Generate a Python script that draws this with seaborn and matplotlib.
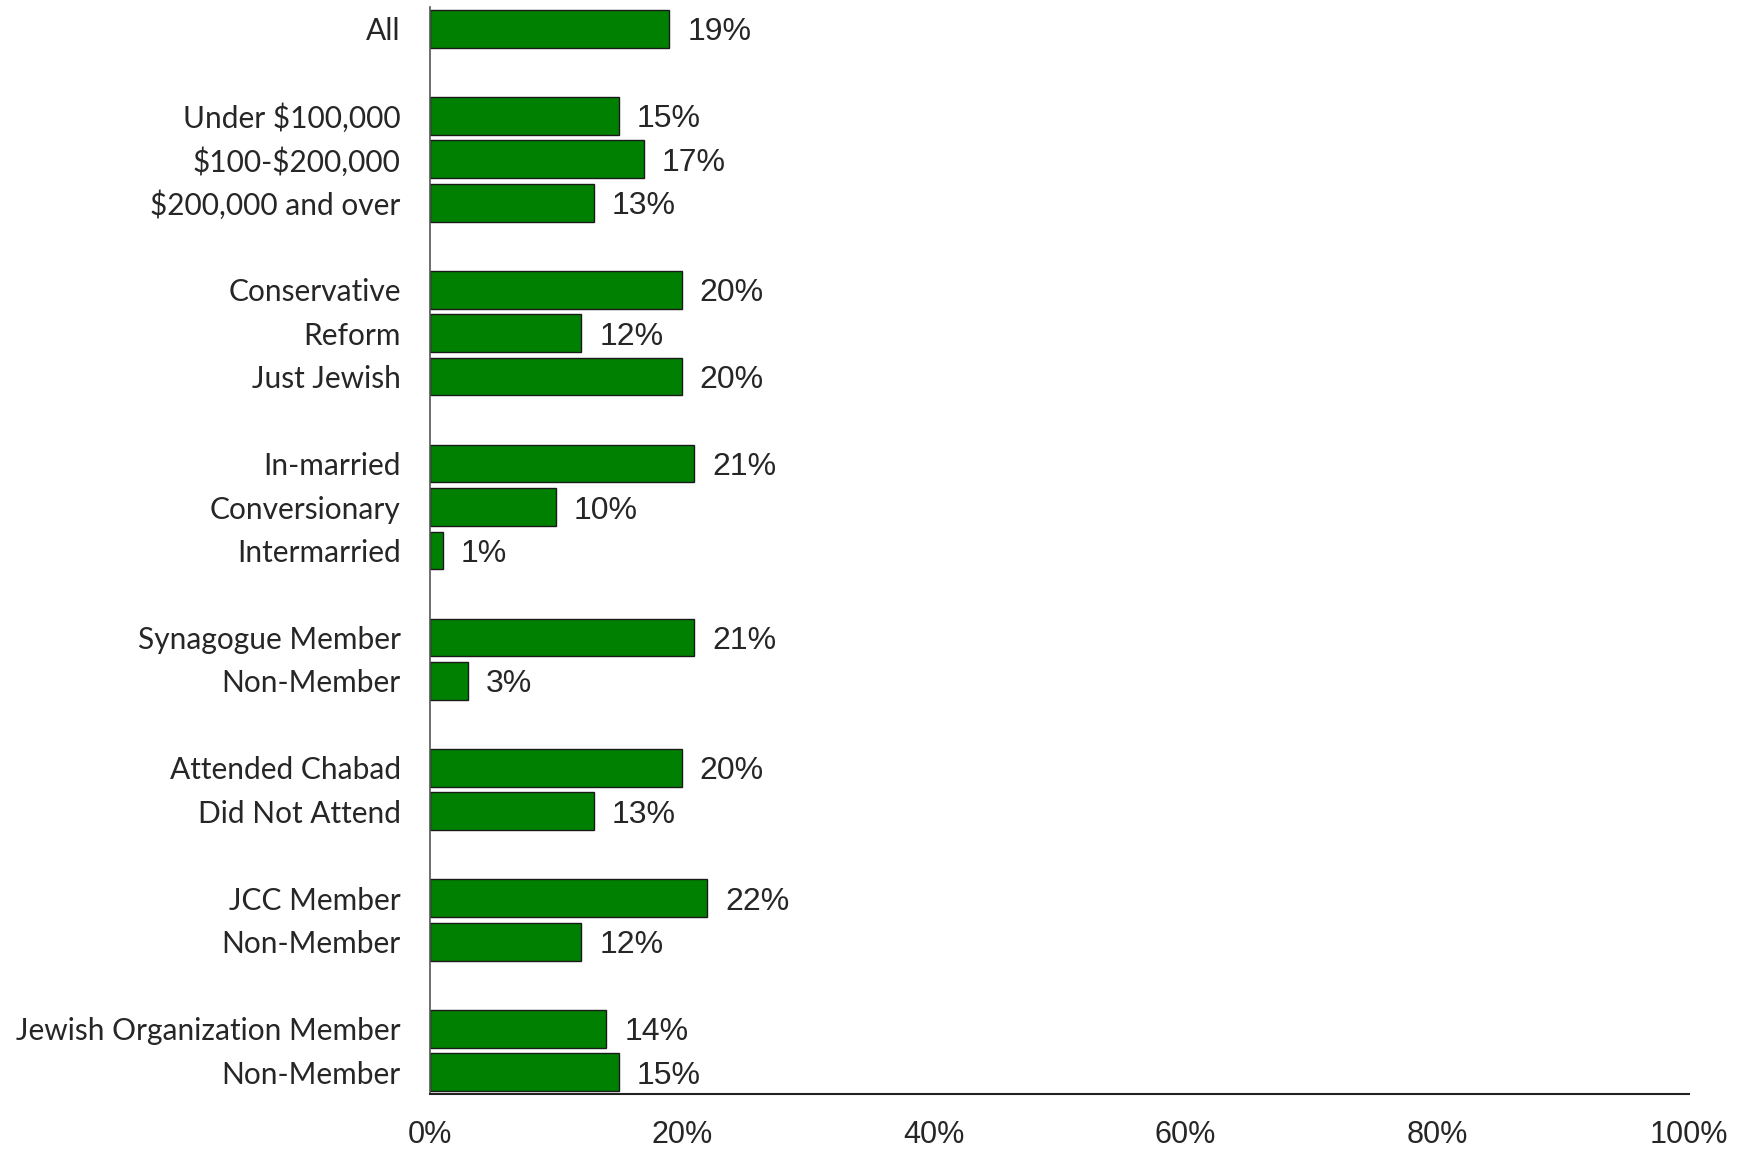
import pandas as pd
import seaborn as sns
import matplotlib.pyplot as plt

# Data
row_ids = ["all", "inc1", "inc2", "inc3", "den1", "den2", "den3",
           "mar1", "mar2", "mar3", "syn1", "syn2", "cha1", "cha2",
           "jcc1", "jcc2", "org1", "org2"]
labels = ["All", "Under $100,000", "$100-$200,000", "$200,000 and over",
          "Conservative", "Reform", "Just Jewish",
          "In-married", "Conversionary", "Intermarried",
          "Synagogue Member", "Non-Member",
          "Attended Chabad", "Did Not Attend",
          "JCC Member", "Non-Member",
          "Jewish Organization Member", "Non-Member"]
values = [19, 15, 17, 13, 20, 12, 20, 21, 10, 1, 21, 3, 20, 13, 22, 12, 14, 15]
# empty slots between groups
order = ["all", "gap1", "inc1", "inc2", "inc3", "gap2", "den1", "den2", "den3",
         "gap3", "mar1", "mar2", "mar3", "gap4", "syn1", "syn2", "gap5",
         "cha1", "cha2", "gap6", "jcc1", "jcc2", "gap7", "org1", "org2"]
xticks = [0, 20, 40, 60, 80, 100]

df = pd.DataFrame({"row": row_ids, "label": labels, "value": values})
# escape $ so matplotlib doesn't treat it as mathtext
label_map = {r: l.replace("$", r"\$") for r, l in zip(row_ids, labels)}

sns.set_style("white")
plt.rcParams["font.family"] = ["Lato", "DejaVu Sans"]
num_font = ["Liberation Sans", "DejaVu Sans"]

fig = plt.figure(figsize=(17.45, 11.49), dpi=100)
ax = fig.add_axes([0.2464, 0.0479, 0.7216, 0.946])

sns.barplot(data=df, x="value", y="row", order=order, orient="h",
            color="#008000", saturation=1, width=0.87,
            edgecolor="#1a1a1a", linewidth=1.0, ax=ax)

ax.set_xlim(0, 100)
ax.set_ylim(len(order) - 0.5, -0.5)
ax.set_xticks(xticks)
ax.set_xticklabels([f"{t}%" for t in xticks], fontsize=22, family=num_font)
ax.set_yticks(range(len(order)))
ax.set_yticklabels([label_map.get(r, "") for r in order], fontsize=21.5)
ax.tick_params(axis="x", length=0, pad=19)
ax.tick_params(axis="y", length=0, pad=21)
ax.set_xlabel("")
ax.set_ylabel("")

for c in ax.containers:
    txts = ax.bar_label(c, fmt="%d%%", padding=13, fontsize=23, family=num_font)
    for t in txts:
        t.set_va("center_baseline")

sns.despine(ax=ax, top=True, right=True)
ax.spines["left"].set_color("#555555")
ax.spines["left"].set_linewidth(1.2)
ax.spines["bottom"].set_color("#222222")
ax.spines["bottom"].set_linewidth(1.5)

plt.savefig("out.png", dpi=100)
